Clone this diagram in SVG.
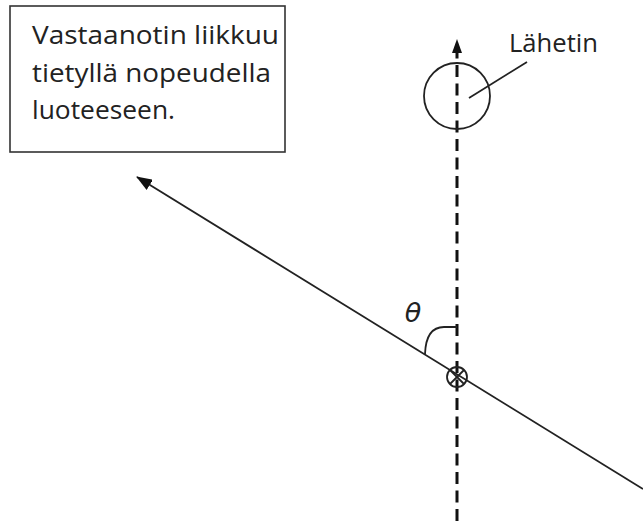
<svg xmlns="http://www.w3.org/2000/svg" width="643" height="521" viewBox="0 0 643 521">
<style>
.lbl{font-family:"Open Sans","Liberation Sans",sans-serif;font-size:25px;fill:#222}
.ln{stroke:#222;fill:none;stroke-width:1.8}
.dash{stroke:#111;stroke-width:3;stroke-dasharray:12 6.5;fill:none}
</style>
<defs>
<marker id="ah2" viewBox="0 0 14 10" refX="13" refY="5" markerWidth="14" markerHeight="10" markerUnits="userSpaceOnUse" orient="auto">
<path d="M0,0 L14,5 L0,10 z" fill="#111"/>
</marker>
<marker id="ah3" viewBox="0 0 16 12" refX="15" refY="6" markerWidth="16" markerHeight="12" markerUnits="userSpaceOnUse" orient="auto">
<path d="M0,0 L16,6 L0,12 z" fill="#111"/>
</marker>
</defs>
<rect width="643" height="521" fill="#fff"/>
<g id="note">
<rect x="10" y="6" width="275" height="146" fill="#fff" stroke="#333" stroke-width="1.6"/>
<text class="lbl" x="32" y="44" textLength="247" lengthAdjust="spacingAndGlyphs">Vastaanotin liikkuu</text>
<text class="lbl" x="32" y="82" textLength="239" lengthAdjust="spacingAndGlyphs">tietyllä nopeudella</text>
<text class="lbl" x="32" y="119" textLength="143" lengthAdjust="spacingAndGlyphs">luoteeseen.</text>
</g>
<g id="connectors">
<line class="dash" x1="457" y1="521" x2="457" y2="40" marker-end="url(#ah2)"/>
<line class="ln" x1="643" y1="489" x2="137" y2="177" marker-end="url(#ah3)"/>
<line class="ln" x1="469" y1="98" x2="527" y2="62"/>
<path class="ln" d="M457,327 L444,327 Q426,327 425,354"/>
</g>
<g id="transmitter">
<circle cx="457" cy="96" r="33" class="ln"/>
<text class="lbl" x="509" y="52" textLength="89" lengthAdjust="spacingAndGlyphs">Lähetin</text>
</g>
<g id="receiver">
<circle cx="457" cy="377" r="10" class="ln" stroke-width="1.2"/>
<line class="ln" stroke-width="1.2" x1="450" y1="370" x2="464" y2="384"/>
<line class="ln" stroke-width="1.2" x1="464" y1="370" x2="450" y2="384"/>
</g>
<g id="angle">
<text x="413" y="322" text-anchor="middle" style="font-family:'DejaVu Sans',sans-serif;font-style:italic;font-size:27px;fill:#222">θ</text>
</g>
</svg>
